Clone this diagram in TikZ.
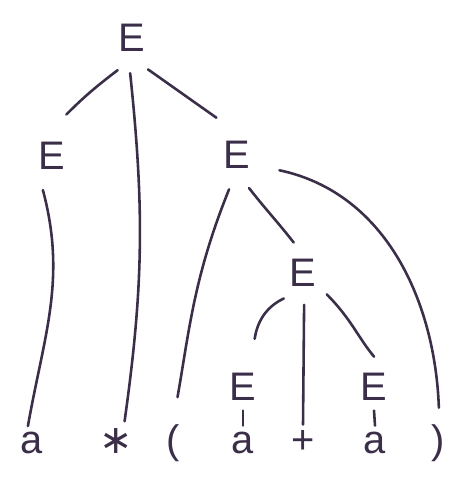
\documentclass[tikz,border=0pt]{standalone}
\usepackage{fontspec}
\setmainfont{Liberation Sans}
\newfontfamily\symfont{DejaVu Sans}
\usetikzlibrary{positioning}
\definecolor{ink}{RGB}{58,46,72}

\begin{document}
\begin{tikzpicture}[
    x=0.03cm, y=0.03cm,
    font=\fontsize{34}{40}\selectfont,
    nt/.style={circle, inner sep=0pt, minimum size=#1, text=ink},
    nt/.default=2.1cm,
    leaf/.style={circle, inner sep=0pt, minimum size=1.0cm, anchor=base, text=ink},
    edge/.style={draw=ink, line width=2.2pt, line cap=round}
]
    \useasboundingbox (0,0) rectangle (453,-482);

    % nonterminals
    \node[nt] (eRoot) at (132,-38) {E};
    \node[nt] (eLeft) at (52,-156) {E};
    \node[nt] (eMid) at (237,-155) {E};
    \node[nt=1.9cm] (eInner) at (303,-273) {E};
    \node[nt=1.4cm] (eA) at (243,-387) {E};
    \node[nt=1.4cm] (eB) at (374,-387) {E};

    % terminals
    \node[leaf] (tA1) at (32,-453) {a};
    \node[leaf] (tStar) at (116,-453) {\symfont ∗};
    \node[leaf] (tLp) at (173,-453) {(};
    \node[leaf] (tA2) at (243,-453) {a};
    \node[leaf] (tPlus) at (303,-453) {+};
    \node[leaf] (tA3) at (375,-453) {a};
    \node[leaf] (tRp) at (438,-453) {)};

    \draw[edge, shorten >=0.3cm] (eRoot.246) to[out=217, in=45] (eLeft.78);
    \draw[edge] (eRoot.267) to[out=-84, in=82] (tStar.66);
    \draw[edge, shorten >=0.25cm] (eRoot.297) -- (eMid.113);

    \draw[edge] (eLeft.255) to[out=-75, in=80] (tA1.104);

    \draw[edge, shorten >=0.78cm] (eMid.257) to[out=-112, in=80] (tLp.90);
    \draw[edge] (eMid.290) to[out=-52, in=128] (eInner.107);
    \draw[edge, shorten <=0.3cm, shorten >=0.45cm] (eMid.338) to[out=-12, in=92] (tRp.86);

    \draw[edge, shorten >=0.78cm] (eInner.233) to[out=205, in=75] (eA.78);
    \draw[edge] (eInner.272) -- (tPlus.90);
    \draw[edge, shorten >=0.3cm] (eInner.318) to[out=-45, in=130] (eB.74);

    \draw[edge] (eA.270) -- (tA2.90);
    \draw[edge] (eB.270) -- (tA3.90);
\end{tikzpicture}
\end{document}
